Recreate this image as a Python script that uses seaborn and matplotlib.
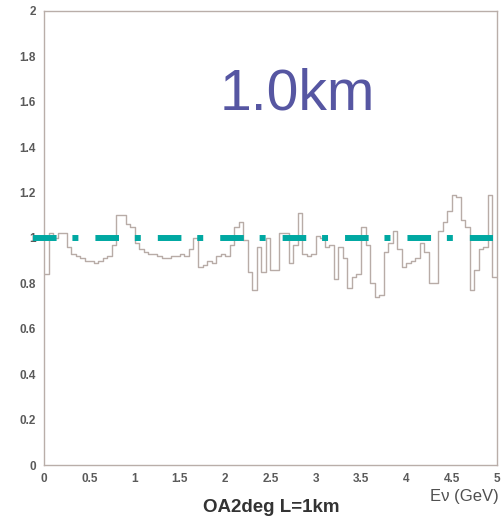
import numpy as np
import pandas as pd
import matplotlib
matplotlib.use("Agg")
import matplotlib.pyplot as plt
import seaborn as sns

# ---- data ----
e_min, e_max, n_bins = 0.0, 5.0, 100
ratio = [
    0.84, 1.02, 1.00, 1.02, 1.02, 0.96, 0.93, 0.92, 0.91, 0.90,
    0.90, 0.89, 0.90, 0.91, 0.92, 0.97, 1.10, 1.10, 1.06, 1.05,
    0.98, 0.95, 0.94, 0.93, 0.93, 0.92, 0.91, 0.91, 0.92, 0.92,
    0.93, 0.92, 0.95, 1.00, 0.87, 0.88, 0.90, 0.89, 0.92, 0.93,
    0.92, 0.97, 1.05, 1.07, 0.99, 0.85, 0.77, 0.96, 0.85, 1.00,
    0.86, 0.86, 1.02, 1.02, 0.89, 0.97, 1.11, 0.93, 0.92, 0.93,
    1.01, 1.00, 0.96, 0.97, 0.82, 0.96, 0.91, 0.78, 0.83, 0.84,
    1.05, 0.97, 0.80, 0.74, 0.75, 0.94, 0.98, 1.03, 0.95, 0.87,
    0.89, 0.90, 0.91, 0.98, 0.94, 0.80, 0.80, 1.03, 1.07, 1.12,
    1.19, 1.18, 1.08, 1.05, 0.77, 0.86, 0.95, 0.96, 1.19, 0.83,
]
ref_level = 1.0
ref_span = [-0.12, 4.96]
x_ticks = [0, 0.5, 1, 1.5, 2, 2.5, 3, 3.5, 4, 4.5, 5]
y_ticks = [0, 0.2, 0.4, 0.6, 0.8, 1, 1.2, 1.4, 1.6, 1.8, 2]
title_text = "1.0km"
xlabel_text = "OA2deg L=1km"
xunit_text = "Eν (GeV)"

width = (e_max - e_min) / n_bins
centers = e_min + width * (np.arange(n_bins) + 0.5)
df = pd.DataFrame({"E": centers, "ratio": ratio})

sns.set_theme(style="white")
plt.rcParams["font.family"] = ["Liberation Sans", "DejaVu Sans"]

fig = plt.figure(figsize=(5.01, 5.19), dpi=100)
ax = fig.add_axes([0.0878, 0.104, 0.904, 0.875])

frame_col = "#b9aea9"
sns.histplot(data=df, x="E", weights="ratio", bins=n_bins, binrange=(e_min, e_max),
             element="step", fill=False, color="#b8aca7", linewidth=1.0, ax=ax)

ax.plot(ref_span, [ref_level, ref_level], color="#00a8a2", linewidth=4.3,
        dashes=(3.95, 2.65, 1.0, 2.85), solid_capstyle="butt", dash_capstyle="butt",
        clip_on=False, zorder=5)

ax.set_xlim(e_min, e_max)
ax.set_ylim(0, 2)
ax.set_xticks(x_ticks)
ax.set_yticks(y_ticks)
ax.set_xticklabels([f"{v:g}" for v in x_ticks])
ax.set_yticklabels([f"{v:g}" for v in y_ticks])
ax.set_xticks(np.arange(0, 5.01, 0.1), minor=True)
ax.set_yticks(np.arange(0, 2.001, 0.04), minor=True)
ax.tick_params(axis="both", which="major", direction="in", length=4, width=0.6,
               color="#e3dcd9", labelsize=8.5, labelcolor="#5a5a5a", pad=6)
ax.tick_params(axis="both", which="minor", direction="in", length=2, width=0.5,
               color="#efe9e6")
for lab in ax.get_xticklabels() + ax.get_yticklabels():
    lab.set_fontweight("bold")
ax.set_xlabel("")
ax.set_ylabel("")
for s in ax.spines.values():
    s.set_color(frame_col)
    s.set_linewidth(1.0)

ax.text(0.559, 0.817, title_text, transform=ax.transAxes, ha="center", va="center",
        fontsize=41, color="#5656a2", fontfamily=["Liberation Sans", "DejaVu Sans"])
fig.text(0.542, 0.023, xlabel_text, ha="center", va="center", fontsize=13.5,
         fontweight="bold", color="#333333")
fig.text(0.995, 0.044, xunit_text, ha="right", va="center", fontsize=12,
         color="#505050")

fig.savefig("out.png", dpi=100)
